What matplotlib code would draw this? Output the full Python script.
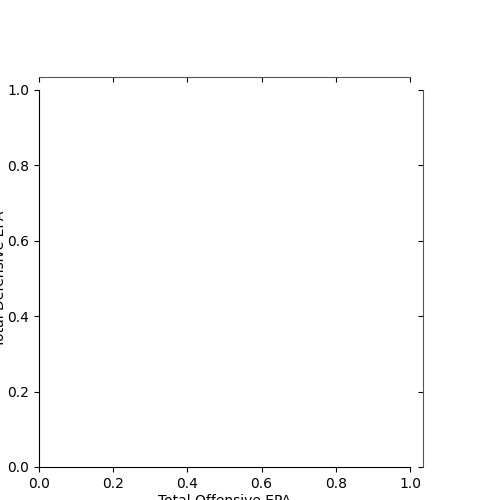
import matplotlib
matplotlib.use("Agg")
import matplotlib.pyplot as plt

# empty chart, only axes labels
x_label = "Total Offensive EPA"
y_label = "Total Defensive EPA"

fig = plt.figure(figsize=(5, 5), dpi=100)
ax = fig.add_axes([0.078, 0.066, 0.742, 0.754])

ax.set_xlim(0, 1)
ax.set_ylim(0, 1)
ax.set_xlabel(x_label, labelpad=2.5)
ax.set_ylabel(y_label)
ax.yaxis.set_label_coords(-0.085, 0.5)

# top/right spines pushed outward, grey
for side in ["top", "right"]:
    ax.spines[side].set_position(("outward", 9.4))
    ax.spines[side].set_color("#555555")

ax.xaxis.set_ticks_position("both")
ax.yaxis.set_ticks_position("both")
ax.tick_params(labeltop=False, labelright=False)
for t in ax.xaxis.get_major_ticks():
    t.tick2line.set_marker(3)  # pointing down
    t.tick2line.set_color("#555555")
for t in ax.yaxis.get_major_ticks():
    t.tick2line.set_marker(0)
    t.tick2line.set_color("#555555")

plt.savefig("out.png", dpi=100)
plt.close()
